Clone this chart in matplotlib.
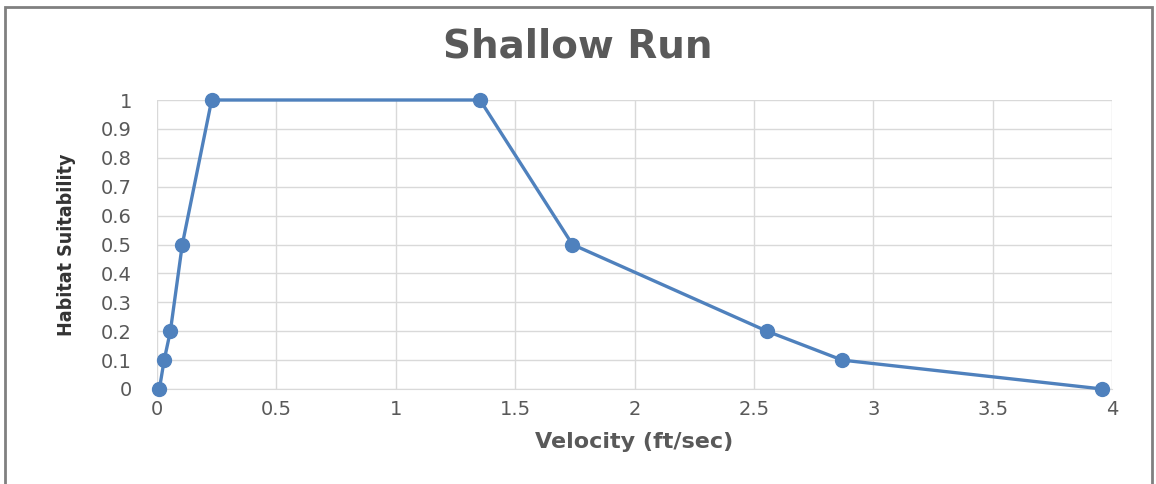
import matplotlib
matplotlib.use("Agg")
from matplotlib import pyplot as plt
from matplotlib.patches import Rectangle
import numpy as np

velocity = [0.01, 0.03, 0.056, 0.106, 0.229, 1.353, 1.74, 2.555, 2.87, 3.96]
suitability = [0.0, 0.1, 0.2, 0.5, 1.0, 1.0, 0.5, 0.2, 0.1, 0.0]
x_ticks = [0, 0.5, 1, 1.5, 2, 2.5, 3, 3.5, 4]
x_labels = ["0", "0.5", "1", "1.5", "2", "2.5", "3", "3.5", "4"]
y_ticks = [0, 0.1, 0.2, 0.3, 0.4, 0.5, 0.6, 0.7, 0.8, 0.9, 1]
y_labels = ["0", "0.1", "0.2", "0.3", "0.4", "0.5", "0.6", "0.7", "0.8", "0.9", "1"]

txt = "#595959"
blue = "#4f81bd"

fig = plt.figure(figsize=(11.56, 4.84), dpi=100)
ax = fig.add_axes([157/1156, 1-389/484, (1112-157)/1156, (389-100)/484])

ax.plot(velocity, suitability, color=blue, lw=2.4, marker="o", ms=10,
        mfc=blue, mec=blue, clip_on=False, zorder=3)

ax.set_xlim(0, 4)
ax.set_ylim(0, 1)
ax.set_xticks(x_ticks)
ax.set_xticklabels(x_labels)
ax.set_yticks(y_ticks)
ax.set_yticklabels(y_labels)
ax.tick_params(length=0, labelsize=14, labelcolor=txt)
ax.tick_params(axis="x", pad=8)
ax.tick_params(axis="y", pad=18)
ax.grid(True, color="#d9d9d9", lw=1)
for s in ["top", "right", "left"]:
    ax.spines[s].set_visible(False)
ax.spines["bottom"].set_color("#d9d9d9")
ax.set_axisbelow(True)

ax.set_xlabel("Velocity (ft/sec)", fontsize=16, fontweight="bold", color=txt, labelpad=9)
ax.set_ylabel("Habitat Suitability", fontsize=14, fontweight="bold", color="#333333",
              fontstretch="condensed", labelpad=18)
fig.text(0.5, 0.903, "Shallow Run", ha="center", va="center", fontsize=28,
         fontweight="bold", color=txt)

fig.patches.append(Rectangle((5/1156, -0.05), (1152-5)/1156, 1.05-7/484,
                             transform=fig.transFigure, fill=False,
                             ec="#808080", lw=2))

fig.savefig("out.png", dpi=100)
